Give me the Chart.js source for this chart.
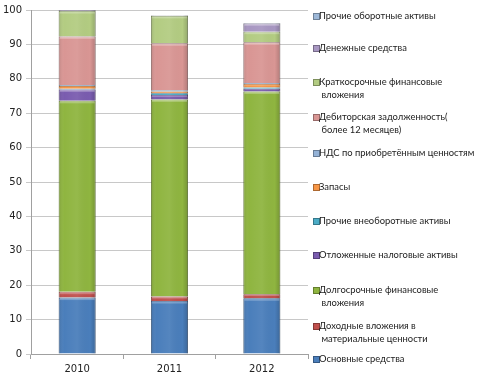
<!DOCTYPE html>
<html><head><meta charset="utf-8">
<script src="https://cdn.jsdelivr.net/npm/chart.js@4/dist/chart.umd.min.js"></script>
<style>
html,body{margin:0;padding:0;background:#fff;}
#wrap{position:relative;width:482px;height:380px;}
#c{position:absolute;left:0;top:0;}
#legend{position:absolute;left:0;top:0;width:482px;height:380px;pointer-events:none;font-family:Lato,"Open Sans",sans-serif;font-size:9.4px;color:#222;}
.li{position:absolute;left:313px;line-height:13px;}
.sw{position:absolute;left:0;top:3.5px;width:5px;height:5px;}
.tx{position:absolute;left:6px;top:0;white-space:nowrap;}
</style></head><body>
<div id="wrap"><canvas id="c" width="482" height="380"></canvas><div id="legend"></div></div>
<script>
const categories = ["2010", "2011", "2012"];
const seriesNames = [
  "Основные средства",
  "Доходные вложения в|материальные ценности",
  "Долгосрочные финансовые|вложения",
  "Отложенные налоговые активы",
  "Прочие внеоборотные активы",
  "Запасы",
  "НДС по приобретённым ценностям",
  "Дебиторская задолженность(|более 12 месяцев)",
  "Краткосрочные финансовые|вложения",
  "Денежные средства",
  "Прочие оборотные активы"
];
const osnovnye      = [16.4, 15.4, 16.2];
const dohodnye      = [1.7, 1.3, 1.2];
const dolgosrochnye = [55.5, 57.3, 58.9];
const otlozhennye   = [3.3, 1.3, 0.8];
const prochieVneob  = [0.2, 0.5, 0.4];
const zapasy        = [0.8, 0.5, 1.0];
const nds           = [0.3, 0.4, 0.3];
const debitorskaya  = [14.1, 13.6, 11.8];
const kratkosrochnye= [7.4, 8.0, 3.1];
const denezhnye     = [0.2, 0.1, 2.4];
const prochieOborot = [0.1, 0.1, 0.1];
const yTicks = [0, 10, 20, 30, 40, 50, 60, 70, 80, 90, 100];

const seriesValues = [osnovnye, dohodnye, dolgosrochnye, otlozhennye, prochieVneob, zapasy, nds, debitorskaya, kratkosrochnye, denezhnye, prochieOborot];
const colors = ["#4A7EBB","#C0504D","#8FB540","#7A5CAF","#4BACC6","#F79646","#95B3D7","#D99694","#B3CC82","#A897C2","#9DB8D8"];

function shade(hex, f){
  const n=parseInt(hex.slice(1),16);let r=n>>16,g=(n>>8)&255,b=n&255;
  const m=v=>Math.max(0,Math.min(255,Math.round(f<0?v*(1+f):v+(255-v)*f)));
  return `rgb(${m(r)},${m(g)},${m(b)})`;
}

const datasets = seriesValues.map((vals,i)=>({
  label: seriesNames[i].replace('|',' '),
  data: vals,
  backgroundColor: colors[i],
  borderColor: shade(colors[i], -0.35),
  borderWidth: 0.8,
  barPercentage: 0.4,
  categoryPercentage: 1.0,
  stack: 's'
}));

const gloss = {
  id:'gloss',
  afterDatasetsDraw(chart){
    const ctx=chart.ctx;
    chart.data.datasets.forEach((ds,di)=>{
      const meta=chart.getDatasetMeta(di);
      meta.data.forEach(el=>{
        const {x,y,base,width}=el.getProps(['x','y','base','width'],true);
        const l=x-width/2, h=base-y;
        if(h<=0) return;
        const g=ctx.createLinearGradient(l,0,l+width,0);
        g.addColorStop(0,'rgba(0,0,0,0.12)');
        g.addColorStop(0.15,'rgba(255,255,255,0.0)');
        g.addColorStop(0.5,'rgba(255,255,255,0.06)');
        g.addColorStop(0.85,'rgba(0,0,0,0.0)');
        g.addColorStop(1,'rgba(0,0,0,0.18)');
        ctx.save();ctx.fillStyle=g;ctx.fillRect(l,y,width,h);
        if(h>3){ctx.fillStyle='rgba(255,255,255,0.25)';ctx.fillRect(l+1,y+0.5,width-2,Math.min(2,h/3));}
        ctx.restore();
      });
    });
  }
};

new Chart(document.getElementById('c'), {
  type:'bar',
  data:{labels:categories, datasets},
  plugins:[gloss],
  options:{
    responsive:false, animation:false,
    layout:{padding:{left:0,right:174,top:5,bottom:0}},
    plugins:{legend:{display:false},tooltip:{enabled:false}},
    scales:{
      x:{stacked:true, offset:true,
        grid:{display:true, drawOnChartArea:false, tickLength:5, color:'#a0a0a0', offset:true},
        border:{color:'#a0a0a0'},
        ticks:{font:{family:'DejaVu Sans', size:10}, color:'#222', padding:4},
        afterFit(s){s.height=26;}
      },
      y:{stacked:true, min:0, max:100,
        afterBuildTicks(s){s.ticks=yTicks.map(v=>({value:v}));},
        grid:{color:'#c8c8c8', tickLength:5},
        border:{color:'#a0a0a0'},
        ticks:{font:{family:'DejaVu Sans', size:10}, color:'#222', padding:4},
        afterFit(s){s.width=31;}
      }
    }
  }
});

// legend (reverse order, top to bottom)
const legendTops = [9, 41, 75, 110, 146, 180, 214, 248, 283, 319, 352];
const lg=document.getElementById('legend');
for(let k=0;k<seriesNames.length;k++){
  const i=seriesNames.length-1-k;
  const d=document.createElement('div');d.className='li';d.style.top=legendTops[k]+'px';
  const sw=document.createElement('div');sw.className='sw';sw.style.background=colors[i];sw.style.border='0.5px solid '+shade(colors[i],-0.3);
  const tx=document.createElement('div');tx.className='tx';
  const parts=seriesNames[i].split('|');
  tx.innerHTML=parts.map((p,j)=>j===0?p:'<br>&nbsp;'+p).join('');
  d.appendChild(sw);d.appendChild(tx);lg.appendChild(d);
}
</script>
</body></html>
